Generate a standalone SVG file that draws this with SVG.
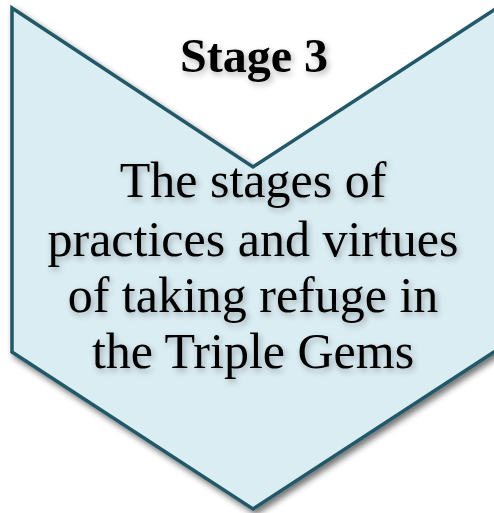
<svg xmlns="http://www.w3.org/2000/svg" width="494" height="513" viewBox="0 0 494 513">
  <defs>
    <filter id="shapeShadow" x="-10%" y="-10%" width="130%" height="130%">
      <feGaussianBlur in="SourceAlpha" stdDeviation="3"/>
      <feOffset dx="3" dy="4" result="b"/>
      <feComponentTransfer><feFuncA type="linear" slope="0.55"/></feComponentTransfer>
      <feMerge><feMergeNode/><feMergeNode in="SourceGraphic"/></feMerge>
    </filter>
    <filter id="textShadow" x="-10%" y="-20%" width="120%" height="160%">
      <feGaussianBlur in="SourceAlpha" stdDeviation="3"/>
      <feOffset dx="2" dy="3" result="b"/>
      <feComponentTransfer><feFuncA type="linear" slope="0.3"/></feComponentTransfer>
      <feMerge><feMergeNode/><feMergeNode in="SourceGraphic"/></feMerge>
    </filter>
  </defs>
  <style>
    .chev { fill: #daedf3; stroke: #215968; stroke-width: 3.5; stroke-linejoin: miter; }
    .title { font-family: "Liberation Serif", "Times New Roman", serif; font-weight: bold; font-size: 48px; fill: #000; text-anchor: middle; }
    .body { font-family: "Liberation Serif", "Times New Roman", serif; font-size: 50px; fill: #000; text-anchor: middle; }
  </style>
  <g id="stage3">
    <path class="chev" filter="url(#shapeShadow)" d="M12,8 L253,167 L497,8 L497,350 L253,509 L12,352 Z"/>
    <g filter="url(#textShadow)">
      <text class="title" x="254" y="72">Stage 3</text>
      <text class="body" x="253" y="197">The stages of</text>
      <text class="body" x="253" y="256">practices and virtues</text>
      <text class="body" x="253" y="312">of taking refuge in</text>
      <text class="body" x="253" y="368">the Triple Gems</text>
    </g>
  </g>
</svg>
